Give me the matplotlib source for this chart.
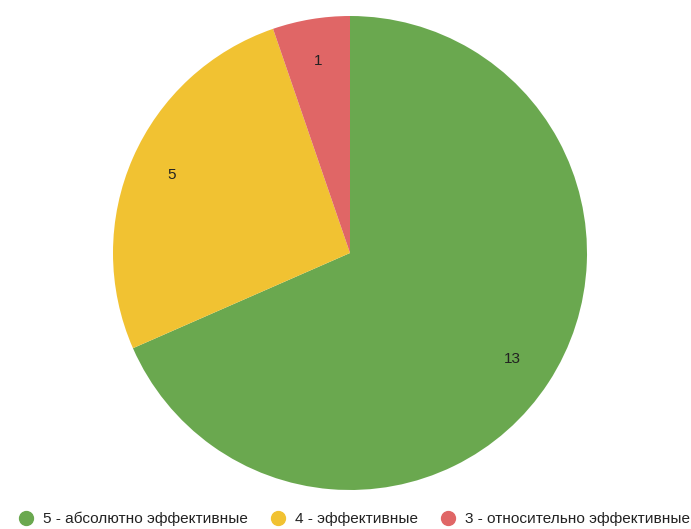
import matplotlib
matplotlib.use("Agg")
import matplotlib.pyplot as plt
from matplotlib.lines import Line2D

categories = ["5 - абсолютно эффективные", "4 - эффективные", "3 - относительно эффективные"]
values = [13, 5, 1]
colors = ["#6aa84f", "#f1c232", "#e06666"]

plt.rcParams['font.family'] = ['Liberation Sans', 'DejaVu Sans']

W, H = 691, 529
fig = plt.figure(figsize=(W / 100, H / 100), dpi=100)
cx, cy, r = 350, 253, 237
ax = fig.add_axes([(cx - r) / W, (H - cy - r) / H, 2 * r / W, 2 * r / H])

wedges, texts, autotexts = ax.pie(
    values, colors=colors, startangle=90, counterclock=False,
    autopct=lambda p: f"{round(p * sum(values) / 100):d}",
    pctdistance=0.82, wedgeprops=dict(linewidth=0),
    textprops=dict(fontsize=11, color="#222222"))
ax.set_aspect("equal")
ax.set_xlim(-1, 1)
ax.set_ylim(-1, 1)

handles = [Line2D([0], [0], marker='o', linestyle='', markersize=10,
                  markerfacecolor=c, markeredgecolor=c) for c in colors]
fig.legend(handles, categories, loc="center", bbox_to_anchor=(0.512, (H - 519) / H),
           ncol=3, frameon=False, fontsize=11.1, handletextpad=0.6, handlelength=1.0,
           columnspacing=1.45, labelcolor="#222222", borderpad=0, borderaxespad=0)

fig.savefig("out.png", dpi=100)
